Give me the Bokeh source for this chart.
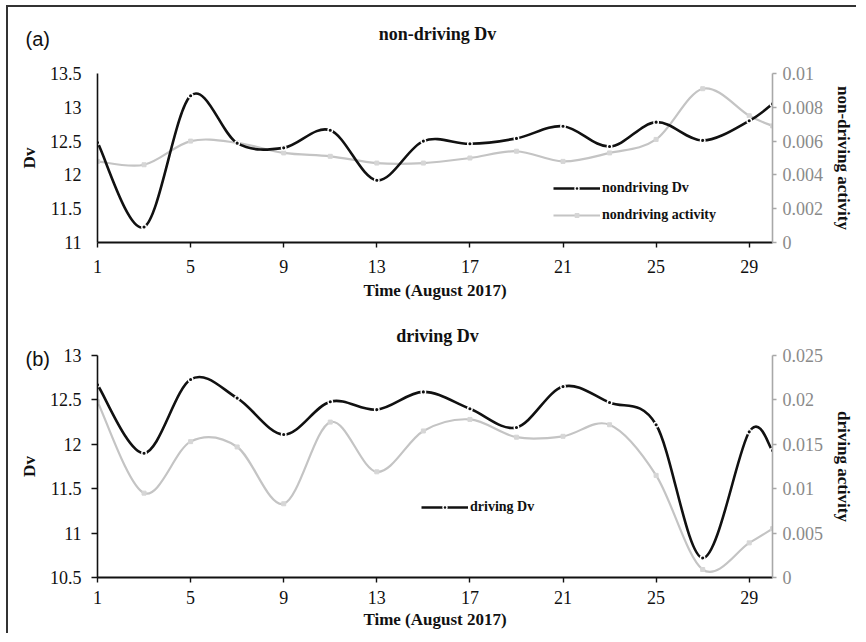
from bokeh.plotting import figure
from bokeh.models import Range1d, LinearAxis, FixedTicker, Label, Legend, LegendItem
from bokeh.layouts import column
from bokeh.embed import file_html
from bokeh.resources import INLINE

# ---------------- data ----------------
days = [1, 3, 5, 7, 9, 11, 13, 15, 17, 19, 21, 23, 25, 27, 29, 30]

nondriving_dv = [12.48, 11.23, 13.17, 12.47, 12.40, 12.66, 11.92, 12.50,
                 12.46, 12.54, 12.72, 12.42, 12.78, 12.51, 12.80, 13.05]
nondriving_activity = [0.0048, 0.0046, 0.0060, 0.0059, 0.0053, 0.0051, 0.0047, 0.0047,
                       0.0050, 0.0054, 0.0048, 0.0053, 0.0061, 0.0091, 0.0075, 0.0069]

driving_dv = [12.67, 11.90, 12.73, 12.52, 12.11, 12.48, 12.39, 12.59,
              12.40, 12.19, 12.65, 12.47, 12.22, 10.72, 12.14, 11.93]
driving_activity = [0.0198, 0.0095, 0.0153, 0.0147, 0.0083, 0.0175, 0.0119, 0.0165,
                    0.0178, 0.0158, 0.0159, 0.0172, 0.0115, 0.0009, 0.0039, 0.0055]

x_ticks = [1, 5, 9, 13, 17, 21, 25, 29]
a_left_ticks = [11, 11.5, 12, 12.5, 13, 13.5]
a_left_labels = ["11", "11.5", "12", "12.5", "13", "13.5"]
a_right_ticks = [0, 0.002, 0.004, 0.006, 0.008, 0.01]
a_right_labels = ["0", "0.002", "0.004", "0.006", "0.008", "0.01"]
b_left_ticks = [10.5, 11, 11.5, 12, 12.5, 13]
b_left_labels = ["10.5", "11", "11.5", "12", "12.5", "13"]
b_right_ticks = [0, 0.005, 0.01, 0.015, 0.02, 0.025]
b_right_labels = ["0", "0.005", "0.01", "0.015", "0.02", "0.025"]

SERIF = "Liberation Serif"
SANS = "Liberation Sans"
BLACK = "#111111"
GRAY = "#c4c4c4"
AXGRAY = "#a8a8a8"
LBLGRAY = "#8a8a8a"
NAN = float("nan")


def smooth(x, y):
    """Catmull-Rom style Bezier control points (Excel 'smoothed line')."""
    n = len(x)
    P = list(zip(x, y))
    P = [P[0]] + P + [P[-1]]
    out = dict(x0=[], y0=[], x1=[], y1=[], cx0=[], cy0=[], cx1=[], cy1=[])
    for i in range(1, n):
        p0, p1, p2, p3 = P[i - 1], P[i], P[i + 1], P[i + 2]
        out["x0"].append(p1[0]); out["y0"].append(p1[1])
        out["x1"].append(p2[0]); out["y1"].append(p2[1])
        out["cx0"].append(p1[0] + (p2[0] - p0[0]) / 6.0)
        out["cy0"].append(p1[1] + (p2[1] - p0[1]) / 6.0)
        out["cx1"].append(p2[0] - (p3[0] - p1[0]) / 6.0)
        out["cy1"].append(p2[1] - (p3[1] - p1[1]) / 6.0)
    return out


def style_axis(ax, color, label_color, ticks, labels, tick_out):
    ax.ticker = FixedTicker(ticks=ticks)
    ax.major_label_overrides = {t: l for t, l in zip(ticks, labels)}
    ax.axis_line_color = color
    ax.axis_line_width = 1.6
    ax.major_tick_line_color = color
    ax.major_tick_line_width = 1.4
    ax.major_tick_out = tick_out
    ax.major_tick_in = 0
    ax.minor_tick_line_color = None
    ax.major_label_text_font = SERIF
    ax.major_label_text_font_size = "18px"
    ax.major_label_text_color = label_color
    ax.axis_label_text_font = SERIF
    ax.axis_label_text_font_style = "bold"
    ax.axis_label_text_font_size = "17px"
    ax.axis_label_text_color = BLACK


def make_panel(height, borders, yr, ar, dv, act, left_ticks, left_labels,
               right_ticks, right_labels, left_tick_out, right_label,
               title, tag, title_pos, tag_pos, legend_items, legend_loc,
               x_label_standoff, x_title_standoff):
    bl, br, bt, bb = borders
    p = figure(width=848, height=height, x_range=Range1d(1, 30), y_range=Range1d(*yr),
               output_backend="svg", toolbar_location=None,
               min_border_left=bl, min_border_right=br, min_border_top=bt, min_border_bottom=bb)
    p.extra_y_ranges = {"act": Range1d(*ar)}
    p.xgrid.visible = False
    p.ygrid.visible = False
    p.outline_line_color = None
    p.background_fill_color = "white"
    p.border_fill_color = "white"

    xa = p.xaxis[0]
    style_axis(xa, BLACK, BLACK, x_ticks, [str(t) for t in x_ticks], 5)
    xa.axis_line_width = 2
    xa.major_label_standoff = x_label_standoff
    xa.axis_label = "Time (August 2017)"
    xa.axis_label_standoff = x_title_standoff

    ya = p.yaxis[0]
    style_axis(ya, BLACK, BLACK, left_ticks, left_labels, left_tick_out)
    ya.major_label_standoff = 16 - left_tick_out if left_tick_out else 16
    ya.axis_label = "Dv"
    ya.axis_label_standoff = 8

    ra = LinearAxis(y_range_name="act")
    style_axis(ra, AXGRAY, LBLGRAY, right_ticks, right_labels, 4)
    ra.major_label_standoff = 6
    ra.axis_label = right_label
    ra.axis_label_standoff = 8
    p.add_layout(ra, "right")

    # gray activity series (right axis)
    p.bezier(**smooth(days, act), line_color=GRAY, line_width=2.2, y_range_name="act")
    s_act = p.scatter(days, act, marker="square", size=4, fill_color="#d6d6d6",
                      line_color="#d6d6d6", y_range_name="act")
    l_act = p.line(x=[NAN, NAN], y=[NAN, NAN], line_color=GRAY, line_width=2.2)

    # black Dv series (left axis)
    p.bezier(**smooth(days, dv), line_color=BLACK, line_width=2.6)
    s_dv = p.scatter(days, dv, marker="circle", size=4.5, fill_color=BLACK,
                     line_color="white", line_width=1.4)
    l_dv = p.line(x=[NAN, NAN], y=[NAN, NAN], line_color=BLACK, line_width=2.6)

    items = []
    for lab in legend_items:
        if lab.endswith("Dv"):
            items.append(LegendItem(label=lab, renderers=[l_dv, s_dv]))
        else:
            items.append(LegendItem(label=lab, renderers=[l_act, s_act]))
    leg = Legend(items=items, location=legend_loc, padding=0, margin=0, spacing=7,
                 glyph_width=47, glyph_height=10, label_height=20, label_standoff=2,
                 border_line_color=None, background_fill_alpha=0,
                 label_text_font=SERIF, label_text_font_style="bold",
                 label_text_font_size="14px", label_text_color=BLACK)
    p.add_layout(leg)

    p.add_layout(Label(x=title_pos[0], y=title_pos[1], x_units="canvas", y_units="canvas",
                       text=title, text_align="center",
                       text_baseline="middle", text_font=SERIF, text_font_style="bold",
                       text_font_size="18px", text_color=BLACK), "above")
    p.add_layout(Label(x=tag_pos[0], y=tag_pos[1], x_units="canvas", y_units="canvas",
                       text=tag, text_align="left",
                       text_baseline="middle", text_font=SANS,
                       text_font_size="20px", text_color=BLACK), "above")
    return p


p1 = make_panel(306, (89, 79, 66, 71), (11, 13.5), (0, 0.01), nondriving_dv, nondriving_activity,
                a_left_ticks, a_left_labels, a_right_ticks, a_right_labels, 0,
                "non-driving activity", "non-driving Dv", "(a)", (429, 26), (17, 31),
                ["nondriving Dv", "nondriving activity"], (456, 17), 12, 5)

p2 = make_panel(320, (88, 84, 28, 56), (10.5, 13), (0, 0.025), driving_dv, driving_activity,
                b_left_ticks, b_left_labels, b_right_ticks, b_right_labels, 6,
                "driving activity", "driving Dv", "(b)", (429, 22), (17, 45),
                ["driving Dv"], (324, 60), 8, 3)

layout = column(p1, p2, styles={"border-top": "2px solid #333333",
                                "border-left": "2px solid #333333",
                                "margin-left": "6px", "margin-top": "5px"})

open("out.html", "w").write(file_html(layout, INLINE))
